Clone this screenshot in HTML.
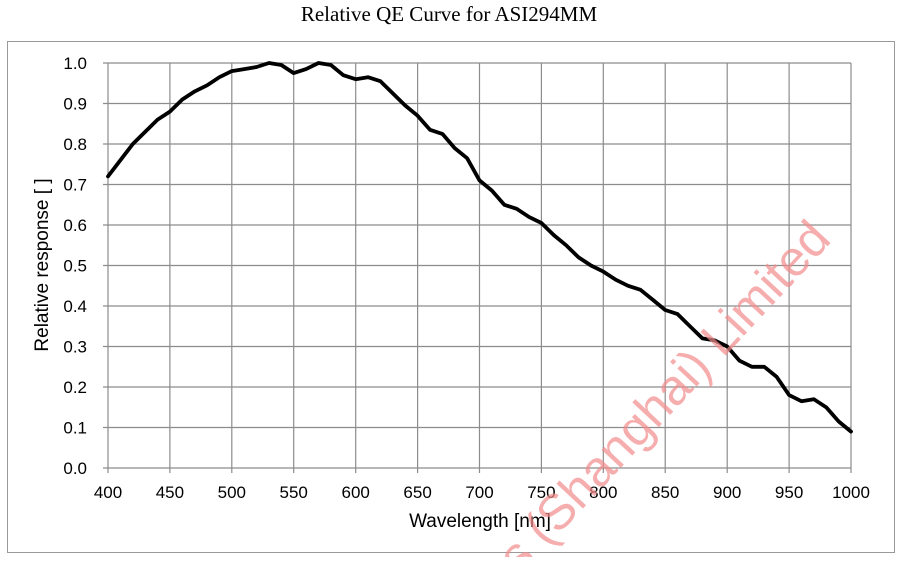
<!DOCTYPE html>
<html><head><meta charset="utf-8"><style>
html,body{margin:0;padding:0;background:#fff;}
</style></head><body>
<svg width="899" height="557" viewBox="0 0 899 557" xmlns="http://www.w3.org/2000/svg">
<rect width="899" height="557" fill="#fff"/>
<text x="449" y="21" text-anchor="middle" font-family="Liberation Serif, serif" font-size="21" fill="#000">Relative QE Curve for ASI294MM</text>
<rect x="7.5" y="41.5" width="887" height="511" fill="none" stroke="#999" stroke-width="1"/>
<g stroke="#8c8c8c" stroke-width="1.2">
<line x1="103" y1="63" x2="851" y2="63"/><line x1="103" y1="103.5" x2="851" y2="103.5"/><line x1="103" y1="144" x2="851" y2="144"/><line x1="103" y1="184.5" x2="851" y2="184.5"/><line x1="103" y1="225" x2="851" y2="225"/><line x1="103" y1="265.5" x2="851" y2="265.5"/><line x1="103" y1="306" x2="851" y2="306"/><line x1="103" y1="346.5" x2="851" y2="346.5"/><line x1="103" y1="387" x2="851" y2="387"/><line x1="103" y1="427.5" x2="851" y2="427.5"/><line x1="103" y1="468" x2="851" y2="468"/>
<line x1="108" y1="63" x2="108" y2="473"/><line x1="169.9" y1="63" x2="169.9" y2="473"/><line x1="231.8" y1="63" x2="231.8" y2="473"/><line x1="293.7" y1="63" x2="293.7" y2="473"/><line x1="355.7" y1="63" x2="355.7" y2="473"/><line x1="417.6" y1="63" x2="417.6" y2="473"/><line x1="479.5" y1="63" x2="479.5" y2="473"/><line x1="541.4" y1="63" x2="541.4" y2="473"/><line x1="603.3" y1="63" x2="603.3" y2="473"/><line x1="665.2" y1="63" x2="665.2" y2="473"/><line x1="727.2" y1="63" x2="727.2" y2="473"/><line x1="789.1" y1="63" x2="789.1" y2="473"/><line x1="851" y1="63" x2="851" y2="473"/>
</g>
<g font-family="Liberation Sans, sans-serif" font-size="17" fill="#000" text-anchor="end">
<text x="87" y="69">1.0</text><text x="87" y="109.5">0.9</text><text x="87" y="150">0.8</text><text x="87" y="190.5">0.7</text><text x="87" y="231">0.6</text><text x="87" y="271.5">0.5</text><text x="87" y="312">0.4</text><text x="87" y="352.5">0.3</text><text x="87" y="393">0.2</text><text x="87" y="433.5">0.1</text><text x="87" y="474">0.0</text>
</g>
<g font-family="Liberation Sans, sans-serif" font-size="17" fill="#000" text-anchor="middle">
<text x="108" y="498">400</text><text x="169.9" y="498">450</text><text x="231.8" y="498">500</text><text x="293.7" y="498">550</text><text x="355.7" y="498">600</text><text x="417.6" y="498">650</text><text x="479.5" y="498">700</text><text x="541.4" y="498">750</text><text x="603.3" y="498">800</text><text x="665.2" y="498">850</text><text x="727.2" y="498">900</text><text x="789.1" y="498">950</text><text x="851" y="498">1000</text>
<text x="480" y="527" font-size="19">Wavelength [nm]</text>
<text transform="translate(48,265) rotate(-90)" font-size="19">Relative response [ ]</text>
</g>
<polyline fill="none" stroke="#000" stroke-width="3.8" stroke-linejoin="round" stroke-linecap="round" points="108,176.4 120.4,160.2 132.8,144 145.1,131.9 157.5,119.7 169.9,111.6 182.3,99.5 194.7,91.4 207.1,85.3 219.4,77.2 231.8,71.1 244.2,69.1 256.6,67 269,63 281.3,65 293.7,73.1 306.1,69.1 318.5,63 330.9,65 343.3,75.2 355.7,79.2 368,77.2 380.4,81.2 392.8,93.4 405.2,105.5 417.6,115.7 430,129.8 442.4,133.9 454.7,148.1 467.1,158.2 479.5,180.4 491.9,190.6 504.3,204.8 516.7,208.8 529,216.9 541.4,223 553.8,235.1 566.2,245.3 578.6,257.4 591,265.5 603.3,271.6 615.7,279.7 628.1,285.8 640.5,289.8 652.9,299.9 665.2,310 677.6,314.1 690,326.3 702.4,338.4 714.8,340.4 727.2,346.5 739.5,360.7 751.9,366.8 764.3,366.8 776.7,376.9 789.1,395.1 801.4,401.2 813.8,399.2 826.2,407.3 838.6,421.4 851,431.6"/>
<text transform="translate(520,576) rotate(-47)" font-family="Liberation Sans, sans-serif" font-size="50" fill="#f28a8a" fill-opacity="0.7">s (Shanghai) Limited</text>
</svg>
</body></html>
